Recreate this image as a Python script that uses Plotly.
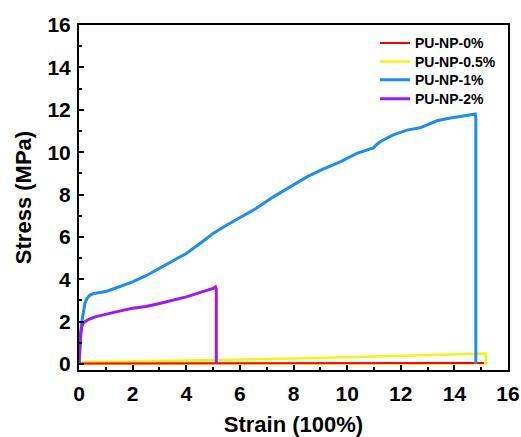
import plotly.graph_objects as go

# Tensile stress-strain curves of PU-NP composites
strain_0 = [0, 5, 10, 15.1]
stress_0 = [0.03, 0.04, 0.05, 0.05]

strain_05 = [0, 1, 2, 4, 6, 6.75, 8, 10, 12, 14, 15.17, 15.17, 0]
stress_05 = [0.08, 0.1, 0.12, 0.16, 0.2, 0.22, 0.26, 0.32, 0.38, 0.45, 0.5, 0.03, 0.02]

strain_1 = [0, 0.03, 0.06, 0.1, 0.15, 0.22, 0.3, 0.4, 0.55, 0.7, 0.85, 1.0, 1.22, 1.5,
            2.0, 2.5, 3.0, 3.5, 4.0, 4.5, 5.0, 5.5, 6.0, 6.6, 7.25, 7.9, 8.5, 9.1, 9.74,
            10.36, 10.98, 11.1, 11.23, 11.7, 12.23, 12.72, 13.0, 13.35, 13.7, 14.1, 14.4,
            14.71, 14.78, 14.8, 14.8]
stress_1 = [0, 0.9, 1.5, 1.95, 2.4, 2.86, 3.1, 3.25, 3.33, 3.36, 3.38, 3.42, 3.52, 3.65,
            3.88, 4.17, 4.51, 4.85, 5.22, 5.68, 6.16, 6.55, 6.92, 7.34, 7.89, 8.38, 8.83,
            9.2, 9.54, 9.94, 10.2, 10.35, 10.49, 10.8, 11.04, 11.15, 11.3, 11.48, 11.58,
            11.67, 11.74, 11.79, 11.8, 11.6, 0]

strain_2 = [0, 0.03, 0.06, 0.1, 0.16, 0.22, 0.35, 0.6, 1.1, 1.5, 2.0, 2.5, 3.0, 3.5,
            4.0, 4.5, 5.0, 5.09, 5.12, 5.12]
stress_2 = [0, 0.8, 1.3, 1.76, 1.93, 2.0, 2.1, 2.23, 2.39, 2.5, 2.63, 2.72, 2.86, 3.0,
            3.17, 3.37, 3.57, 3.65, 3.55, 0]

names = ["PU-NP-0%", "PU-NP-0.5%", "PU-NP-1%", "PU-NP-2%"]
colors = ["#FF0000", "#F7F21A", "#1E8CF5", "#9B1CF2"]

FONT = "Arial, Liberation Sans, sans-serif"

# one legend box per entry so the rows can be packed tightly
legend_ids = ["legend", "legend2", "legend3", "legend4"]
legend_rows_y = [0.947, 0.893, 0.840, 0.785]

fig = go.Figure()
# yellow drawn under red so the red baseline stays visible
fig.add_trace(go.Scatter(x=strain_05, y=stress_05, mode="lines", name=names[1],
                         line=dict(color=colors[1], width=2.5), legend=legend_ids[1]))
fig.add_trace(go.Scatter(x=strain_0, y=stress_0, mode="lines", name=names[0],
                         line=dict(color=colors[0], width=2), legend=legend_ids[0]))
fig.add_trace(go.Scatter(x=strain_1, y=stress_1, mode="lines", name=names[2],
                         line=dict(color=colors[2], width=3), legend=legend_ids[2]))
fig.add_trace(go.Scatter(x=strain_2, y=stress_2, mode="lines", name=names[3],
                         line=dict(color=colors[3], width=3), legend=legend_ids[3]))

axis_common = dict(
    showline=True, linecolor="black", linewidth=2, mirror=True,
    ticks="inside", ticklen=5, tickwidth=2, tickcolor="black",
    showgrid=False, zeroline=False, automargin=False,
    tickfont=dict(family=FONT, size=21, color="black", weight="bold"),
    minor=dict(ticks="inside", ticklen=3, tickwidth=2, tickcolor="black", dtick=1),
)

fig.update_xaxes(
    range=[0, 16], dtick=2, tick0=0, ticklabelstandoff=4,
    title=dict(text="Strain (100%)", standoff=12,
               font=dict(family=FONT, size=22, color="black", weight="bold")),
    **axis_common,
)
fig.update_yaxes(
    range=[-0.28, 16], dtick=2, tick0=0, ticklabelstandoff=2,
    title=dict(text="Stress (MPa)", standoff=10,
               font=dict(family=FONT, size=22, color="black", weight="bold")),
    **axis_common,
)

legend_style = dict(
    x=0.69, xanchor="left", yanchor="middle",
    bgcolor="rgba(0,0,0,0)", borderwidth=0,
    font=dict(family=FONT, size=14, color="black", weight="bold"),
    itemwidth=30,
)

fig.update_layout(
    width=521, height=437,
    margin=dict(l=79, r=13, t=25, b=67),
    paper_bgcolor="white", plot_bgcolor="white",
    showlegend=True,
    **{lid: dict(y=ly, **legend_style) for lid, ly in zip(legend_ids, legend_rows_y)},
)

fig.write_html("out.html")
